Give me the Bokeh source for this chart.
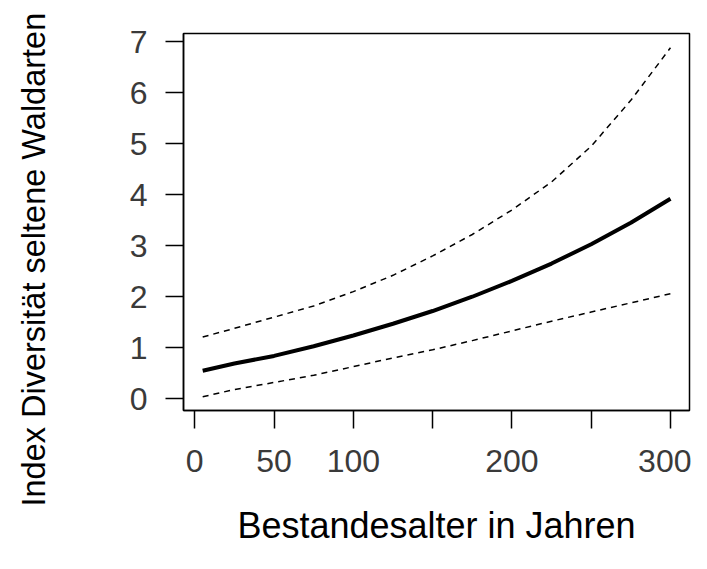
from bokeh.plotting import figure
from bokeh.models import Range1d, FixedTicker, Title, LinearAxis
from bokeh.embed import file_html
from bokeh.resources import INLINE

# Data
age = [5, 25, 50, 75, 100, 125, 150, 175, 200, 225, 250, 275, 300]
fit = [0.55, 0.69, 0.84, 1.03, 1.24, 1.47, 1.72, 2.00, 2.31, 2.65, 3.03, 3.45, 3.92]
upper = [1.21, 1.38, 1.60, 1.82, 2.10, 2.42, 2.80, 3.22, 3.70, 4.25, 4.95, 5.85, 6.88]
lower = [0.04, 0.18, 0.32, 0.46, 0.63, 0.80, 0.96, 1.14, 1.33, 1.52, 1.70, 1.88, 2.06]

x_ticks = [0, 50, 100, 150, 200, 250, 300]
x_tick_labels = ["0", "50", "100", "", "200", "", "300"]
y_ticks = [0, 1, 2, 3, 4, 5, 6, 7]

x_title = "Bestandesalter in Jahren"
y_title = "Index Diversität seltene Waldarten"

FONT = "Liberation Sans"

p = figure(width=691, height=553, output_backend="svg", toolbar_location=None,
           x_range=Range1d(-7.1, 312), y_range=Range1d(-0.23, 7.16),
           min_border_left=183, min_border_right=2, min_border_top=33, min_border_bottom=143)
p.background_fill_color = "white"
p.border_fill_color = "white"
p.outline_line_color = "black"
p.outline_line_width = 1.5
p.xgrid.visible = False
p.ygrid.visible = False

p.line(age, upper, line_color="black", line_width=1.5, line_dash="6 5")
p.line(age, lower, line_color="black", line_width=1.5, line_dash="6 5")
p.line(age, fit, line_color="black", line_width=4)

for ax in (p.xaxis[0], p.yaxis[0]):
    ax.axis_line_color = "black"
    ax.axis_line_width = 1.5
    ax.major_tick_line_color = "black"
    ax.major_tick_line_width = 1.5
    ax.major_tick_out = 18
    ax.major_tick_in = 0
    ax.minor_tick_line_color = None
    ax.major_label_text_font = FONT
    ax.major_label_text_font_size = "32px"
    ax.major_label_text_color = "#3a3a3a"

xa = p.xaxis[0]
xa.ticker = FixedTicker(ticks=x_ticks)
xa.major_label_overrides = {t: l for t, l in zip(x_ticks, x_tick_labels)}
xa.major_label_standoff = 21
xa.axis_label = x_title
xa.axis_label_text_font = FONT
xa.axis_label_text_font_size = "36px"
xa.axis_label_text_font_style = "normal"
xa.axis_label_text_color = "black"
xa.axis_label_standoff = 30

ya = p.yaxis[0]
ya.ticker = FixedTicker(ticks=y_ticks)
ya.major_label_orientation = "horizontal"
ya.major_label_standoff = 18

# blank spacer between the y axis and the y title (white tick in empty margin)
spacer = LinearAxis(ticker=FixedTicker(ticks=[7]), axis_line_color=None,
                    major_tick_line_color="white", minor_tick_line_color=None,
                    major_tick_out=70, major_tick_in=0,
                    major_label_overrides={7: ""})
p.add_layout(spacer, "left")

p.add_layout(Title(text=y_title, align="left", offset=-96,
                   text_font=FONT, text_font_size="32.5px", text_font_style="normal",
                   text_color="black"), "left")

open("out.html", "w").write(file_html(p, INLINE))
